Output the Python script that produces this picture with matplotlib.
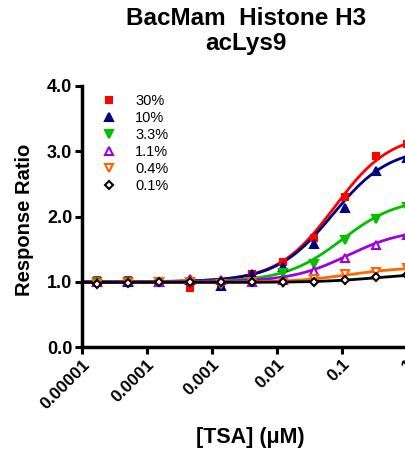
import numpy as np
import matplotlib.pyplot as plt

plt.rcParams['font.family'] = ['Liberation Sans', 'DejaVu Sans']

# TSA concentrations (uM), 3-fold dilutions
conc = [1.69e-5, 5.08e-5, 1.52e-4, 4.57e-4, 1.37e-3, 4.12e-3, 1.23e-2, 3.70e-2, 0.111, 0.333, 1.0]

labels = ['30%', '10%', '3.3%', '1.1%', '0.4%', '0.1%']
resp_30 = [1.02, 1.03, 1.00, 0.90, 0.97, 1.12, 1.31, 1.67, 2.30, 2.93, 3.11]
resp_10 = [0.99, 1.00, 1.00, 1.02, 0.94, 1.12, 1.22, 1.58, 2.13, 2.70, 2.90]
resp_3 = [0.99, 1.00, 1.00, 1.00, 0.97, 0.99, 1.14, 1.27, 1.64, 1.96, 2.14]
resp_1 = [0.99, 1.01, 0.99, 1.04, 1.03, 0.99, 1.02, 1.16, 1.36, 1.57, 1.72]
resp_04 = [0.96, 0.98, 0.99, 0.99, 0.97, 0.99, 0.98, 1.04, 1.12, 1.15, 1.21]
resp_01 = [0.96, 0.98, 1.00, 0.99, 1.00, 0.99, 1.00, 0.99, 1.03, 1.07, 1.10]
responses = [resp_30, resp_10, resp_3, resp_1, resp_04, resp_01]

# fitted curve parameters (bottom, top, EC50 in uM)
bottoms = [1.0, 1.0, 1.0, 1.0, 0.99, 0.99]
tops = [3.28, 3.06, 2.29, 1.81, 1.225, 1.135]
ec50s = [0.077, 0.073, 0.101, 0.125, 0.125, 0.35]

colors = ['#ff0000', '#000080', '#00c000', '#a000e0', '#ff6600', '#000000']
markers = ['s', '^', 'v', '^', 'v', 'D']
filled = [True, True, True, False, False, False]

fig = plt.figure(figsize=(4.06, 4.49), dpi=100)
ax = fig.add_axes([82 / 406, 102 / 449, 344 / 406, 261 / 449])

xs = np.logspace(-5, 0, 300)
for i in range(len(labels)):
    c = colors[i]
    ms = 5 if markers[i] == 's' else (4.5 if markers[i] == 'D' else 6)
    ax.plot(conc, responses[i], linestyle='none', marker=markers[i], markersize=ms,
            markerfacecolor=c if filled[i] else 'white', markeredgecolor=c,
            markeredgewidth=1.5, label=labels[i], zorder=3)
    curve = bottoms[i] + (tops[i] - bottoms[i]) / (1 + ec50s[i] / xs)
    ax.plot(xs, curve, color=c, linewidth=2, zorder=2)

ax.set_xscale('log')
ax.set_xlim(1e-5, 10 ** 0.3)
ax.set_ylim(0, 4)
ax.set_xticks([1e-5, 1e-4, 1e-3, 1e-2, 1e-1, 1])
ax.set_xticklabels(['0.00001', '0.0001', '0.001', '0.01', '0.1', '1'],
                   rotation=45, ha='right', rotation_mode='anchor',
                   fontsize=12.5, fontweight='bold')
ax.minorticks_off()
ax.set_yticks([0, 1, 2, 3, 4])
ax.set_yticklabels(['0.0', '1.0', '2.0', '3.0', '4.0'], fontsize=13, fontweight='bold')
ax.tick_params(direction='out', length=5, width=2.2, pad=2)

for s in ['top', 'right']:
    ax.spines[s].set_visible(False)
for s in ['left', 'bottom']:
    ax.spines[s].set_linewidth(2.5)

fig.text(25 / 406, 1 - 220 / 449, 'Response Ratio', fontsize=14.5, fontweight='bold',
         rotation=90, ha='center', va='center')
fig.text(250 / 406, 1 - 437 / 449, '[TSA] (\u03bcM)', fontsize=15.5, fontweight='bold',
         ha='center', va='center')
fig.text(246 / 406, 1 - 31 / 449, 'BacMam  Histone H3\nacLys9', fontsize=17.5,
         fontweight='bold', ha='center', va='center', linespacing=1.1)

ax.legend(loc='upper left', bbox_to_anchor=(0.04, 0.99), frameon=False, fontsize=10.5,
          handlelength=1.0, handletextpad=1.3, labelspacing=0.2, borderaxespad=0)

fig.savefig('out.png', dpi=100)
